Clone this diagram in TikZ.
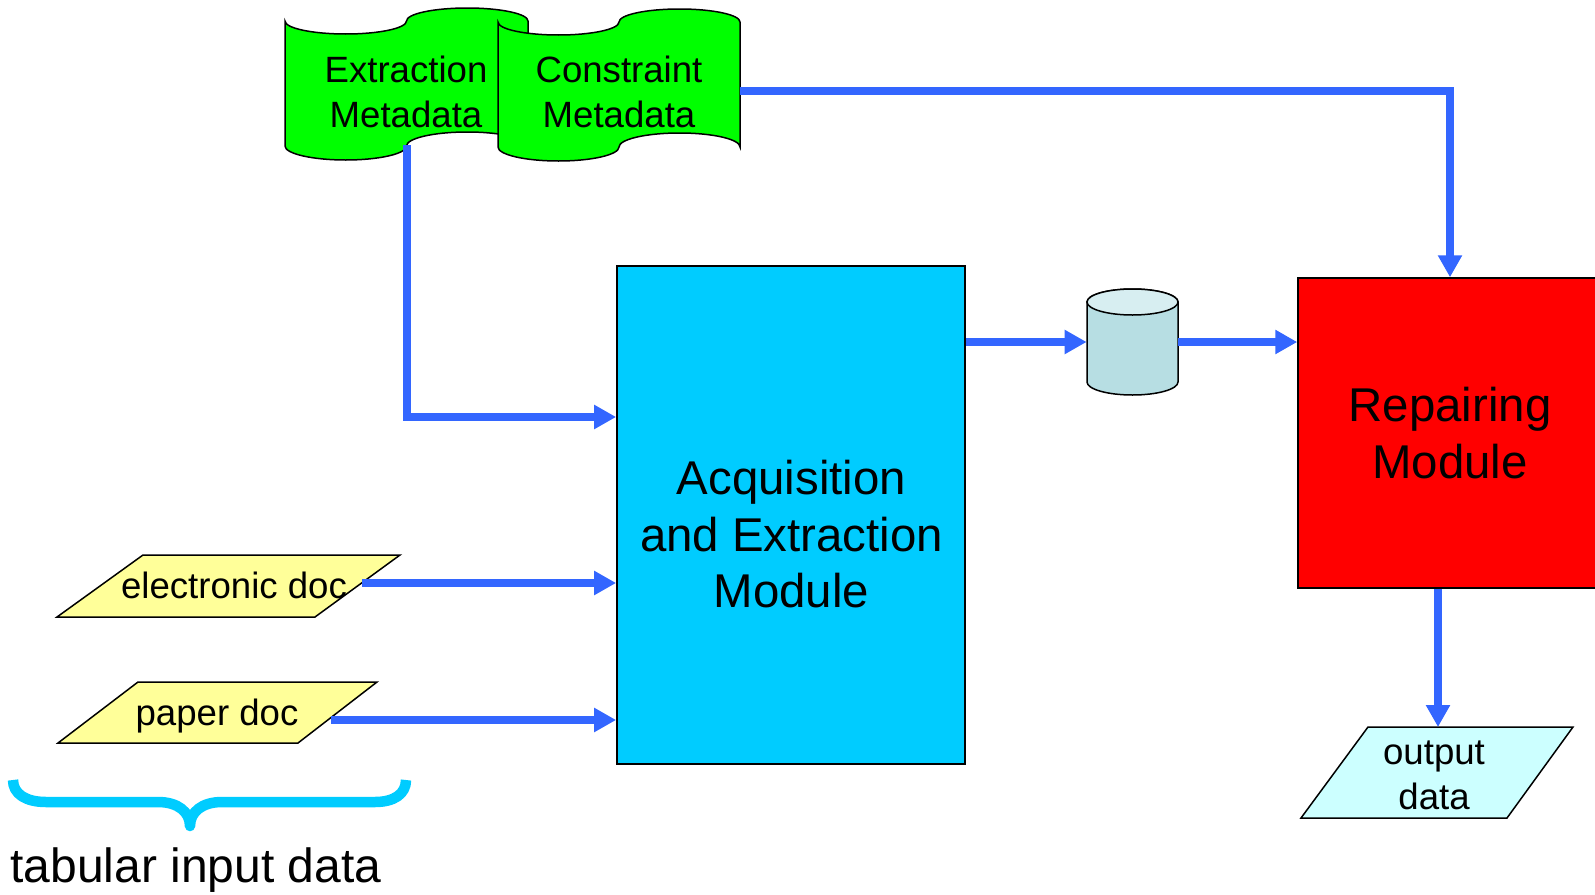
\documentclass[tikz,border=0pt]{standalone}
\usepackage{fontspec}
\setmainfont{Liberation Sans}
\usetikzlibrary{arrows.meta}
\definecolor{arrowblue}{HTML}{3366FF}
\definecolor{tapegreen}{HTML}{00FF00}
\definecolor{acqblue}{HTML}{00CCFF}
\definecolor{docyellow}{HTML}{FFFF99}
\definecolor{outcyan}{HTML}{CCFFFF}
\definecolor{cylbody}{HTML}{B7DEE3}
\definecolor{cyltop}{HTML}{D7EEF1}
\definecolor{bracecyan}{HTML}{00CCFF}
\newcommand\tapeshape[6]{%
 \pgfmathsetmacro\tpL{#1}\pgfmathsetmacro\tpR{#2}\pgfmathsetmacro\tpq{(#2-#1)/4}%
 \pgfmathsetmacro\tpk{0.5523}%
 \pgfmathsetmacro\tpT{#3}\pgfmathsetmacro\tpB{#4}\pgfmathsetmacro\tpa{#5}\pgfmathsetmacro\tpb{#6}%
 \filldraw[tapestyle] (\tpL,\tpT)
   .. controls (\tpL,{\tpT+\tpk*\tpa}) and ({\tpL+\tpq-\tpk*\tpq},{\tpT+\tpa}) .. ({\tpL+\tpq},{\tpT+\tpa})
   .. controls ({\tpL+\tpq+\tpk*\tpq},{\tpT+\tpa}) and ({\tpL+2*\tpq},{\tpT+\tpk*\tpa}) .. ({\tpL+2*\tpq},\tpT)
   .. controls ({\tpL+2*\tpq},{\tpT-\tpk*\tpa}) and ({\tpL+3*\tpq-\tpk*\tpq},{\tpT-\tpa}) .. ({\tpL+3*\tpq},{\tpT-\tpa})
   .. controls ({\tpL+3*\tpq+\tpk*\tpq},{\tpT-\tpa}) and (\tpR,{\tpT-\tpk*\tpa}) .. (\tpR,\tpT)
   -- (\tpR,\tpB)
   .. controls (\tpR,{\tpB-\tpk*\tpb}) and ({\tpL+3*\tpq+\tpk*\tpq},{\tpB-\tpb}) .. ({\tpL+3*\tpq},{\tpB-\tpb})
   .. controls ({\tpL+3*\tpq-\tpk*\tpq},{\tpB-\tpb}) and ({\tpL+2*\tpq},{\tpB-\tpk*\tpb}) .. ({\tpL+2*\tpq},\tpB)
   .. controls ({\tpL+2*\tpq},{\tpB+\tpk*\tpb}) and ({\tpL+\tpq+\tpk*\tpq},{\tpB+\tpb}) .. ({\tpL+\tpq},{\tpB+\tpb})
   .. controls ({\tpL+\tpq-\tpk*\tpq},{\tpB+\tpb}) and (\tpL,{\tpB+\tpk*\tpb}) .. (\tpL,\tpB)
   -- cycle;%
}
\begin{document}
\begin{tikzpicture}[x=0.5pt,y=-0.5pt,
 flow/.style={draw=arrowblue, line width=3.75pt, line join=miter, -{Triangle[length=11pt,width=11.5pt]}},
 tapestyle/.style={fill=tapegreen, draw=black, line width=0.75pt},
 docshape/.style={draw=black, line width=0.75pt},
 smalltxt/.style={inner sep=0pt, font=\fontsize{18.3}{22.5}\selectfont, align=center},
 bigtxt/.style={inner sep=0pt, font=\fontsize{23.7}{28.25}\selectfont, align=center},
]
\useasboundingbox (0,0) rectangle (1595,894);
\fill[white] (0,0) rectangle (1595,894);
\clip (0,0) rectangle (1595,894);

% metadata banners
\tapeshape{285}{528}{21}{146}{13}{14}
\node[smalltxt] (exm) at (406,91.5) {Extraction\\Metadata};
\tapeshape{498}{740}{22}{147}{13}{14}
\node[smalltxt] (cm) at (619,91.5) {Constraint\\Metadata};
\coordinate (exmout) at (407,145);
\coordinate (cmout) at (740,91);

% acquisition module
\node[draw=black, line width=0.9pt, fill=acqblue, minimum width=174pt, minimum height=249pt, inner sep=0pt] (acq) at (791,515) {};
\node[bigtxt] (acqtxt) at (791.5,534.5) {Acquisition\\and Extraction\\Module};

% repairing module
\node[draw=black, line width=0.75pt, fill=red, minimum width=152pt, minimum height=155pt, bigtxt] (rep) at (1450,433) {Repairing\\Module};

% cylinder
\filldraw[fill=cylbody, draw=black, line width=0.75pt] (1087,302) -- (1087,382)
  arc[start angle=180, end angle=360, x radius=22.75pt, y radius=6.5pt] -- (1178,302)
  arc[start angle=0, end angle=180, x radius=22.75pt, y radius=6.5pt] -- cycle;
\filldraw[fill=cyltop, draw=black, line width=0.75pt] (1132.5,302) ellipse [x radius=22.75pt, y radius=6.5pt];
\node[inner sep=0pt, minimum width=45.5pt, minimum height=53pt] (db) at (1132.5,342) {};

% input docs
\filldraw[docshape, fill=docyellow] (57,617) -- (315,617) -- (400,555) -- (143,555) -- cycle;
\node[smalltxt, anchor=base] (edoc) at (234,598) {electronic doc};
\coordinate (edocout) at (362,583);
\filldraw[docshape, fill=docyellow] (58,743) -- (298,743) -- (377,682) -- (138,682) -- cycle;
\node[smalltxt, anchor=base] (pdoc) at (217,725) {paper doc};
\coordinate (pdocout) at (331,720);

% output
\filldraw[docshape, fill=outcyan] (1301,818) -- (1507,818) -- (1573,727) -- (1368,727) -- cycle;
\node[smalltxt] (outd) at (1434,775) {output\\data};
\coordinate (outtop) at (1438,727);

% brace
\draw[bracecyan, line width=5.25pt, line cap=butt, line join=round] (13,780) .. controls (13,794) and (26,802) .. (46,802) -- (158,802)
  .. controls (178,802) and (190,812) .. (190,826) .. controls (190,812) and (202,802) .. (222,802) -- (375,802)
  .. controls (394,802) and (406,794) .. (406,780);
\node[anchor=base west, inner sep=0pt, font=\fontsize{24}{28}\selectfont] (tid) at (10,882) {tabular input data};

% connectors
\draw[flow] (exmout) |- ([yshift=49pt]acq.west);
\draw[flow] (edocout) -- (edocout -| acq.west);
\draw[flow] (pdocout) -- (pdocout -| acq.west);
\draw[flow] (cmout) -| (rep.north);
\draw[flow] (acq.east |- db.west) -- (db.west);
\draw[flow] (db.east) -- (db.east -| rep.west);
\draw[flow] (rep.south -| outtop) -- (outtop);
\end{tikzpicture}
\end{document}
